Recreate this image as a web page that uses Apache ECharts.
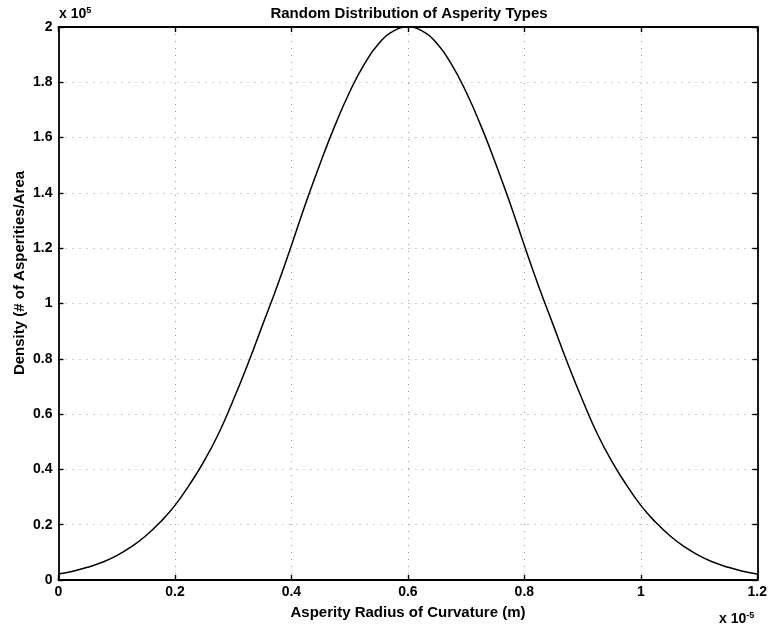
<!DOCTYPE html>
<html>
<head>
<meta charset="utf-8">
<title>Random Distribution of Asperity Types</title>
<script src="https://cdn.jsdelivr.net/npm/echarts@6/dist/echarts.min.js"></script>
<style>
  html, body { margin: 0; padding: 0; background: #fff; }
  #main { width: 770px; height: 634px; }
</style>
</head>
<body>
<div id="main"></div>
<script>
// asperity radius (x 1e-5 m) and density (x 1e5)
var radius = [0, 0.025, 0.05, 0.075, 0.1, 0.125, 0.15, 0.175, 0.2, 0.225, 0.25, 0.275,
  0.3, 0.325, 0.35, 0.375, 0.4, 0.425, 0.45, 0.475, 0.5, 0.525, 0.55, 0.575, 0.6,
  0.625, 0.65, 0.675, 0.7, 0.725, 0.75, 0.775, 0.8, 0.825, 0.85, 0.875, 0.9,
  0.925, 0.95, 0.975, 1.0, 1.025, 1.05, 1.075, 1.1, 1.125, 1.15, 1.175, 1.2];
var density = [0.022, 0.032, 0.046, 0.064, 0.088, 0.12, 0.16, 0.21, 0.27, 0.345, 0.43, 0.53,
  0.65, 0.78, 0.92, 1.06, 1.21, 1.365, 1.51, 1.645, 1.765, 1.865, 1.94, 1.985, 2.0,
  1.985, 1.94, 1.865, 1.765, 1.645, 1.51, 1.365, 1.21, 1.06, 0.92, 0.78, 0.65,
  0.53, 0.43, 0.345, 0.27, 0.21, 0.16, 0.12, 0.088, 0.064, 0.046, 0.032, 0.022];
var xTicks = [0, 0.2, 0.4, 0.6, 0.8, 1, 1.2];
var yTicks = [0, 0.2, 0.4, 0.6, 0.8, 1, 1.2, 1.4, 1.6, 1.8, 2];

var font = '"Liberation Sans", Arial, sans-serif';

var points = [];
for (var i = 0; i < radius.length; i++) {
  points.push([radius[i], density[i]]);
}

var gridLine = {
  show: true,
  lineStyle: { color: '#9a9a9a', width: 1, type: [1, 6] }
};

function baseAxis(min, max, step) {
  return {
    type: 'value',
    min: min,
    max: max,
    interval: step,
    axisLine: { show: true, onZero: false, lineStyle: { color: '#000', width: 1.8 } },
    axisTick: { show: true, inside: true, length: 5, lineStyle: { color: '#000', width: 1.4 } },
    splitLine: { show: false }
  };
}

var xBottom = baseAxis(xTicks[0], xTicks[xTicks.length - 1], 0.2);
xBottom.position = 'bottom';
xBottom.splitLine = gridLine;
xBottom.axisLabel = { color: '#000', fontSize: 14, fontWeight: 'bold', fontFamily: font, margin: 5 };

var xTop = baseAxis(xTicks[0], xTicks[xTicks.length - 1], 0.2);
xTop.position = 'top';
xTop.axisLabel = { show: false };

var yLeft = baseAxis(yTicks[0], yTicks[yTicks.length - 1], 0.2);
yLeft.position = 'left';
yLeft.splitLine = gridLine;
yLeft.axisLabel = { color: '#000', fontSize: 14, fontWeight: 'bold', fontFamily: font, margin: 6 };

var yRight = baseAxis(yTicks[0], yTicks[yTicks.length - 1], 0.2);
yRight.position = 'right';
yRight.axisLabel = { show: false };

var supStyle = { fontSize: 9, fontWeight: 'bold', fontFamily: font, verticalAlign: 'top', padding: [0, 0, 7, 0] };

var option = {
  backgroundColor: '#fff',
  animation: false,
  title: {
    text: 'Random Distribution of Asperity Types',
    left: 404,
    top: 1,
    textAlign: 'center',
    textStyle: { color: '#000', fontSize: 15, fontWeight: 'bold', fontFamily: font }
  },
  grid: {
    left: 58.5,
    right: 12,
    top: 27,
    bottom: 54
  },
  xAxis: [xBottom, xTop],
  yAxis: [yLeft, yRight],
  graphic: [{
    type: 'text',
    left: 59,
    top: 6,
    style: {
      text: 'x 10{s|5}',
      fill: '#000',
      font: 'bold 14px ' + font,
      rich: { s: supStyle }
    }
  }, {
    type: 'text',
    left: 719,
    top: 611,
    style: {
      text: 'x 10{s|-5}',
      fill: '#000',
      font: 'bold 14px ' + font,
      rich: { s: supStyle }
    }
  }, {
    type: 'text',
    x: 408,
    y: 613,
    style: {
      text: 'Asperity Radius of Curvature (m)',
      fill: '#000',
      font: 'bold 15px ' + font,
      align: 'center',
      verticalAlign: 'middle'
    }
  }, {
    type: 'text',
    x: 20,
    y: 273,
    rotation: Math.PI / 2,
    style: {
      text: 'Density (# of Asperities/Area',
      fill: '#000',
      font: 'bold 15px ' + font,
      align: 'center',
      verticalAlign: 'middle'
    }
  }],
  series: [{
    name: 'Density',
    type: 'line',
    xAxisIndex: 0,
    yAxisIndex: 0,
    smooth: true,
    showSymbol: false,
    lineStyle: { color: '#000', width: 1.5 },
    data: points
  }]
};

var myChart = echarts.init(document.getElementById('main'));
myChart.setOption(option);
</script>
</body>
</html>
